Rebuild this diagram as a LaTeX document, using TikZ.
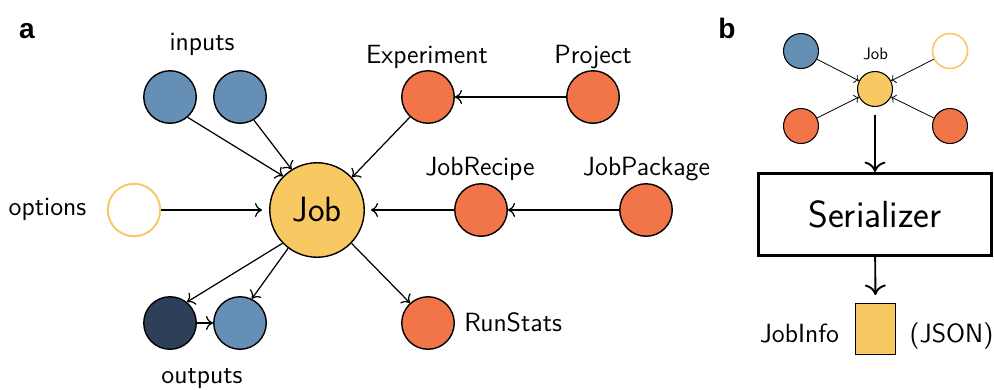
\documentclass[tikz,border=0pt]{standalone}
\usepackage{fontspec}
\usetikzlibrary{arrows.meta}
\newfontfamily\panelfont{Liberation Sans}
\definecolor{inblue}{RGB}{102,143,181}
\definecolor{objorange}{RGB}{242,117,73}
\definecolor{jobyellow}{RGB}{248,200,98}
\definecolor{outdark}{RGB}{46,64,89}

\begin{document}
\begin{tikzpicture}[x=0.02cm, y=-0.02cm,
	obj/.style={circle, draw, line width=0.8pt, minimum size=1.05cm, inner sep=0pt},
	sobj/.style={circle, draw, line width=0.6pt, minimum size=0.7cm, inner sep=0pt},
	lbl/.style={anchor=base, inner sep=0pt, font=\sffamily\fontsize{15}{17}\selectfont},
	panel/.style={anchor=base, inner sep=0pt, font=\panelfont\bfseries\fontsize{16}{18}\selectfont},
	link/.style={-{To[length=4pt,width=8pt]}, line width=0.7pt},
	slink/.style={-{To[length=2.5pt,width=5pt]}, line width=0.45pt},
	blink/.style={-{To[length=6pt,width=12pt]}, line width=1.1pt}]
	\useasboundingbox (0,0) rectangle (994,389);
	\node[panel] (pa) at (27,38) {a};
	\node[panel] (pb) at (727,38) {b};
	\begin{scope} [every node/.style={obj}]
		\node[fill=inblue] (in1) at (170,97){};
		\node[fill=inblue] (in2) at (240,97){};
		\node[draw=jobyellow, line width=1.1pt, fill=white] (opt) at (134,210){};
		\node[fill=outdark] (out1) at (170,323){};
		\node[fill=inblue] (out2) at (240,323){};
		\node[fill=objorange] (exp) at (428,97){};
		\node[fill=objorange] (proj) at (593,97){};
		\node[fill=objorange] (rec) at (481,210){};
		\node[fill=objorange] (pkg) at (646,210){};
		\node[fill=objorange] (stat) at (428,323){};
		\node[fill=jobyellow, minimum size=1.89cm, font=\sffamily\fontsize{20}{22}\selectfont] (job) at (317,210){Job};
	\end{scope}
	\node[lbl] (inlbl) at (202,50) {inputs};
	\node[lbl] (optlbl) at (47.5,215) {options};
	\node[lbl] (outlbl) at (202,383) {outputs};
	\node[lbl] (explbl) at (427,63) {Experiment};
	\node[lbl] (projlbl) at (593,63) {Project};
	\node[lbl] (reclbl) at (480,175) {JobRecipe};
	\node[lbl] (pkglbl) at (646.5,175) {JobPackage};
	\node[lbl, anchor=base west] (statlbl) at (464,331) {RunStats};
	\draw[link] (in1.311) -- (job.135);
	\draw[link] (in2.301) -- (job.122);
	\draw[link, shorten >=4pt] (opt) -- (job);
	\draw[link] (exp.228) -- (job.43);
	\draw[link] (proj) -- (exp);
	\draw[link, shorten >=3.4pt] (rec) -- (job);
	\draw[link] (pkg) -- (rec);
	\draw[link] (job.224) -- (out1.51);
	\draw[link] (job.233) -- (out2.64);
	\draw[link] (out1) -- (out2);
	\draw[link] (job.316) -- (stat.132);

	\begin{scope} [every node/.style={sobj}]
		\node[fill=inblue] (sin) at (801,51){};
		\node[draw=jobyellow, line width=0.9pt, fill=white] (sopt) at (950,51){};
		\node[fill=objorange] (sleft) at (801,126){};
		\node[fill=objorange] (sright) at (950,126){};
		\node[fill=jobyellow] (sjob) at (875,89){};
	\end{scope}
	\node[lbl, font=\sffamily\fontsize{9.5}{11}\selectfont] (sjoblbl) at (875.5,59) {Job};
	\draw[slink] (sin) -- (sjob);
	\draw[slink] (sopt) -- (sjob);
	\draw[slink] (sleft) -- (sjob);
	\draw[slink] (sright) -- (sjob);
	\node[draw, line width=1.6pt, minimum width=4.66cm, minimum height=1.64cm, inner sep=0pt, font=\sffamily\fontsize{21.5}{25}\selectfont] (ser) at (875,214.5) {Serializer};
	\node[draw, fill=jobyellow, line width=0.6pt, minimum width=0.8cm, minimum height=1.02cm, inner sep=0pt] (info) at (875.5,329) {};
	\node[lbl] (infolbl) at (799.5,342) {JobInfo};
	\node[lbl] (jsonlbl) at (951.5,342) {(JSON)};
	\draw[blink, shorten <=4.5pt] (sjob) -- (ser);
	\draw[blink, shorten >=4.5pt] (ser) -- (info);
\end{tikzpicture}
\end{document}
